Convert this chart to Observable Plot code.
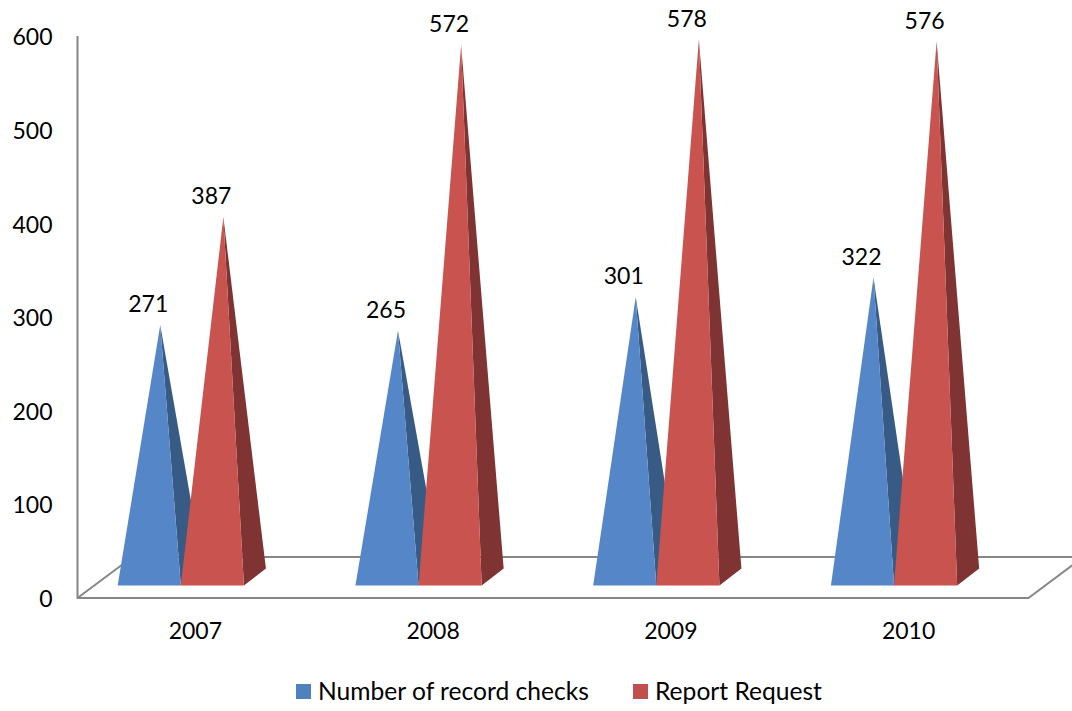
<!DOCTYPE html>
<html>
<head>
<meta charset="utf-8">
<script src="https://cdn.jsdelivr.net/npm/d3@7"></script>
<script src="https://cdn.jsdelivr.net/npm/@observablehq/plot@0.6"></script>
<style>
html,body{margin:0;padding:0;background:#fff;overflow:hidden}
#legend{position:absolute;left:0;top:650px;width:1072px;height:61px;font-family:Lato,sans-serif;font-size:24.6px;color:#000}
#legend span{position:absolute;white-space:nowrap;line-height:30px;top:26px}
#legend i{position:absolute;width:15px;height:15px;top:34px}
</style>
</head>
<body>
<div id="chart"></div>
<div id="legend"></div>
<script>
const years = ["2007", "2008", "2009", "2010"];
const recordChecks = [271, 265, 301, 322];
const reportRequest = [387, 572, 578, 576];
const seriesNames = ["Number of record checks", "Report Request"];
const yTicks = [0, 100, 200, 300, 400, 500, 600];

// drawing parameters for the oblique 3D look, in scale units
const barLeft = -0.331, barWidth = 0.2655;
const sideX = 0.0925, sideY = 18;
const frontY = 13.4;
const floorX = 0.2313, floorY = 43.8;
const heightFactor = 0.994;

const colors = {front0: "#5587c8", side0: "#375b85", front1: "#c9534f", side1: "#7f3433"};

const faces = [], labels = [];
years.forEach((year, i) => {
  [recordChecks, reportRequest].forEach((series, s) => {
    const x0 = i + 0.5 + barLeft + s * barWidth, x1 = x0 + barWidth;
    const apexX = (x0 + x1 + sideX) / 2;
    const apexY = frontY + sideY / 2 + series[i] * heightFactor;
    const push = (face, pts) => pts.forEach(([x, y]) =>
      faces.push({id: `${year}-${s}-${face}`, face: face + s, x, y}));
    push("side", [[apexX, apexY], [x1, frontY], [x1 + sideX, frontY + sideY]]);
    push("front", [[x0, frontY], [apexX, apexY], [x1, frontY]]);
    labels.push({x: (x0 + x1) / 2, y: apexY, text: String(series[i])});
  });
});

const floor = [[0, 0], [4, 0], [4 + floorX, floorY], [floorX, floorY], [0, 0]].map(([x, y]) => ({x, y}));

const chart = Plot.plot({
  width: 1072, height: 650,
  marginLeft: 77, marginRight: 44, marginTop: 36, marginBottom: 52.5,
  style: {fontFamily: "Lato, sans-serif", fontSize: "23px", color: "#000", background: "#fff"},
  x: {domain: [0, 4], label: null},
  y: {domain: [0, 600], label: null},
  color: {domain: Object.keys(colors), range: Object.values(colors)},
  marks: [
    Plot.line(floor, {x: "x", y: "y", stroke: "#868686", strokeWidth: 2, curve: "linear"}),
    Plot.ruleX([0], {y1: 0, y2: 600, stroke: "#868686", strokeWidth: 2}),
    Plot.line(faces, {x: "x", y: "y", z: "id", fill: "face", stroke: null, curve: "linear-closed"}),
    Plot.text(labels, {x: "x", y: "y", text: "text", dx: -1, dy: -20, fontSize: 23, fill: "#000"}),
    Plot.axisY({ticks: yTicks, tickSize: 0, tickPadding: 25, dy: 1.5, label: null, fontSize: 23, fill: "#000"}),
    Plot.axisX({ticks: [0.5, 1.5, 2.5, 3.5], tickFormat: d => years[Math.floor(d)], tickSize: 0, tickPadding: 25, dx: -1, label: null, fontSize: 23, fill: "#000"})
  ]
});
document.getElementById("chart").appendChild(chart);

const legend = document.getElementById("legend");
[[seriesNames[0], "#4f81bd", 296, 318], [seriesNames[1], "#c0504d", 633, 655]].forEach(([name, color, sx, tx]) => {
  const sw = document.createElement("i");
  sw.style.left = sx + "px"; sw.style.background = color;
  const t = document.createElement("span");
  t.style.left = tx + "px"; t.textContent = name;
  legend.append(sw, t);
});
</script>
</body>
</html>
